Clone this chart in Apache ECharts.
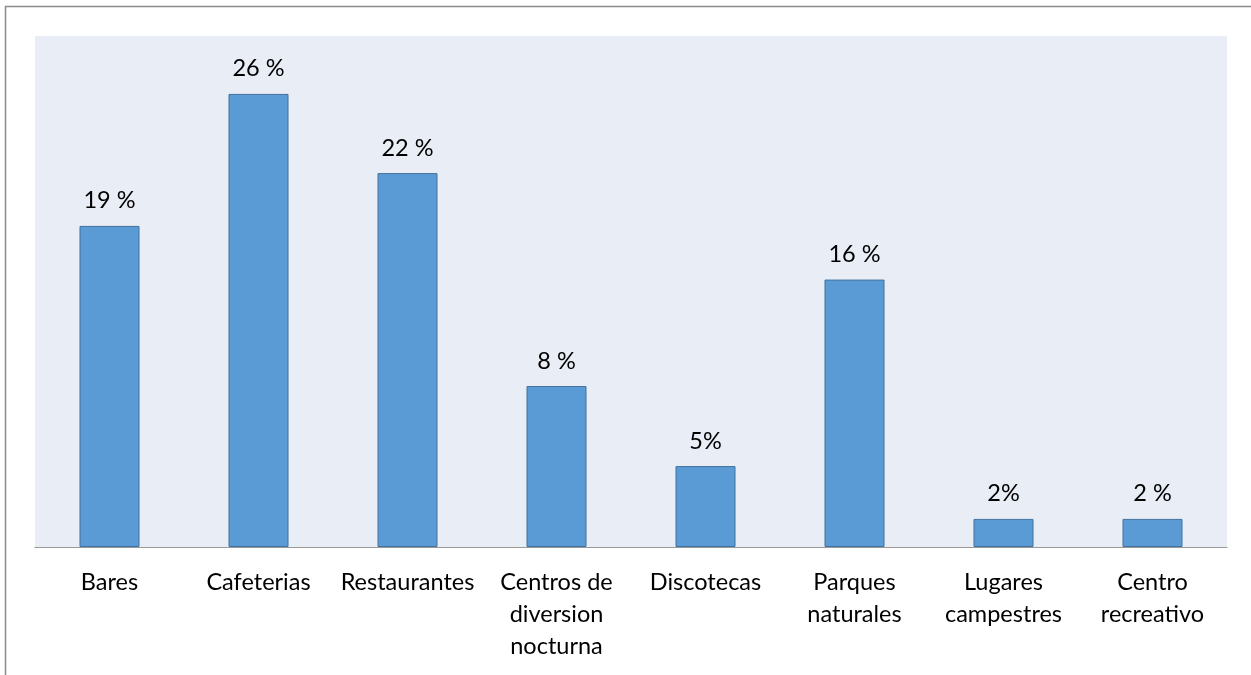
<!DOCTYPE html>
<html>
<head>
<meta charset="utf-8">
<script src="https://cdn.jsdelivr.net/npm/echarts@6/dist/echarts.min.js"></script>
<style>
html,body{margin:0;padding:0;background:#fff;}
#c{width:1251px;height:675px;}
</style>
</head>
<body>
<div id="c"></div>
<script>
const categories = ['Bares','Cafeterias','Restaurantes','Centros de\ndiversion\nnocturna','Discotecas','Parques\nnaturales','Lugares\ncampestres','Centro\nrecreativo'];
const values = [18.85, 26.6, 21.95, 9.45, 4.75, 15.7, 1.65, 1.65];
const valueLabels = ['19 %','26 %','22 %','8 %','5%','16 %','2%','2 %'];

const chart = echarts.init(document.getElementById('c'));
chart.setOption({
  animation:false,
  graphic:[{type:'rect',z:-1,shape:{x:5.5,y:6.5,width:1400,height:800},style:{fill:'none',stroke:'#8c8c8c',lineWidth:1.5}}],
  grid:{left:35,top:36,right:24,bottom:128,show:true,backgroundColor:'#E9EDF6',borderWidth:0},
  xAxis:{type:'category',data:categories,
    axisLine:{lineStyle:{color:'#9a9a9a',width:1.2}},
    axisTick:{show:false},
    axisLabel:{color:'#000',fontFamily:'Lato',fontSize:23.5,lineHeight:32,margin:19,interval:0}},
  yAxis:{type:'value',min:0,max:30,show:false,splitLine:{show:false}},
  series:[{type:'bar',data:values,barWidth:60,
    itemStyle:{color:'#5B9BD5',borderColor:'#41719C',borderWidth:1},
    label:{show:true,position:'top',distance:13,color:'#000',fontFamily:'Lato',fontSize:23.5,
      formatter:p=>valueLabels[p.dataIndex]}}]
});
</script>
</body>
</html>
